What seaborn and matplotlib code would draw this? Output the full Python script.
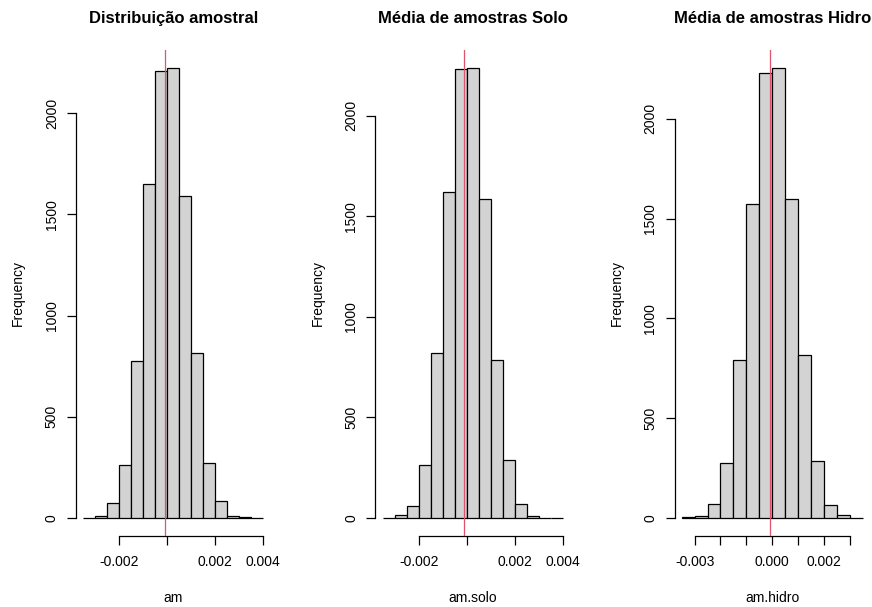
import numpy as np
import pandas as pd
import matplotlib
matplotlib.use("Agg")
import matplotlib.pyplot as plt
import seaborn as sns

plt.rcParams["font.family"] = ["Liberation Sans", "DejaVu Sans"]

# Histogram breaks (bin width 0.0005)
edges_am = np.linspace(-0.0035, 0.004, 16)
edges_solo = np.linspace(-0.0035, 0.004, 16)
edges_hidro = np.linspace(-0.0035, 0.0035, 15)

# Frequencies per bin
counts_am = [1, 10, 74, 260, 777, 1652, 2209, 2224, 1591, 816, 272, 82, 8, 3, 1]
counts_solo = [1, 15, 60, 262, 818, 1620, 2231, 2237, 1584, 783, 289, 70, 12, 2, 1]
counts_hidro = [3, 12, 70, 278, 794, 1572, 2231, 2255, 1597, 818, 288, 67, 13, 1]

# Sample means (vertical reference lines)
means = [-0.0001, -0.00012, -0.0001]

titles = ["Distribuição amostral", "Média de amostras Solo", "Média de amostras Hidro"]
xlabels = ["am", "am.solo", "am.hidro"]

xticks_list = [
    [-0.002, 0.0, 0.002, 0.004],
    [-0.002, 0.0, 0.002, 0.004],
    [-0.003, -0.002, -0.001, 0.0, 0.001, 0.002, 0.003],
]
xticklabels_list = [
    ["-0.002", "", "0.002", "0.004"],
    ["-0.002", "", "0.002", "0.004"],
    ["-0.003", "", "", "0.000", "", "0.002", ""],
]
yticks = [0, 500, 1000, 1500, 2000]
yticklabels = ["0", "500", "1000", "1500", "2000"]

W, H = 872, 607
fig = plt.figure(figsize=(W / 100, H / 100), dpi=100)

lefts_px = [76, 375.3, 674.5]
widths_px = [194.5, 195, 195.3]
top_px, bottom_px = 50, 536
ylabel_x_px = 18.3
xlabel_y_px = 598

panels = [
    (edges_am, counts_am),
    (edges_solo, counts_solo),
    (edges_hidro, counts_hidro),
]

for i, (edges, counts) in enumerate(panels):
    ax = fig.add_axes([lefts_px[i] / W, (H - bottom_px) / H,
                       widths_px[i] / W, (bottom_px - top_px) / H])
    centers = (edges[:-1] + edges[1:]) / 2
    df = pd.DataFrame({"value": centers, "freq": np.asarray(counts, dtype=float)})
    sns.histplot(data=df, x="value", weights="freq", bins=list(edges), ax=ax,
                 color="#D3D3D3", edgecolor="black", linewidth=0.9,
                 alpha=1, stat="count")
    ax.axvline(means[i], color="#DF536B", linewidth=0.9, zorder=5)

    span = edges[-1] - edges[0]
    ax.set_xlim(edges[0] - 0.04 * span, edges[-1] + 0.04 * span)
    cmax = max(counts)
    ax.set_ylim(-0.04 * cmax, 1.04 * cmax)

    for s in ["top", "right"]:
        ax.spines[s].set_visible(False)
    xt = xticks_list[i]
    ax.spines["bottom"].set_bounds(xt[0], xt[-1])
    ax.spines["left"].set_bounds(yticks[0], yticks[-1])
    for s in ["bottom", "left"]:
        ax.spines[s].set_linewidth(0.9)

    ax.set_xticks(xt)
    ax.set_xticklabels(xticklabels_list[i])
    ax.set_yticks(yticks)
    ax.set_yticklabels(yticklabels, rotation=90, va="center")
    ax.tick_params(axis="both", length=6.5, width=0.9, labelsize=10,
                   direction="out", colors="black")
    ax.tick_params(axis="x", pad=7)
    ax.tick_params(axis="y", pad=5.8)

    ax.set_title(titles[i], fontsize=12, fontweight="bold", pad=19.4)
    ax.set_xlabel(xlabels[i], fontsize=10)
    ax.xaxis.label.set_verticalalignment("center")
    ax.xaxis.set_label_coords(0.5, -(xlabel_y_px - bottom_px) / (bottom_px - top_px))
    ax.set_ylabel("Frequency", fontsize=10)
    ax.yaxis.label.set_verticalalignment("center")
    ax.yaxis.set_label_coords(-(lefts_px[i] - (ylabel_x_px + i * 299.3)) / widths_px[i], 0.5)
    ax.set_facecolor("white")

fig.savefig("out.png", dpi=100, facecolor="white")
